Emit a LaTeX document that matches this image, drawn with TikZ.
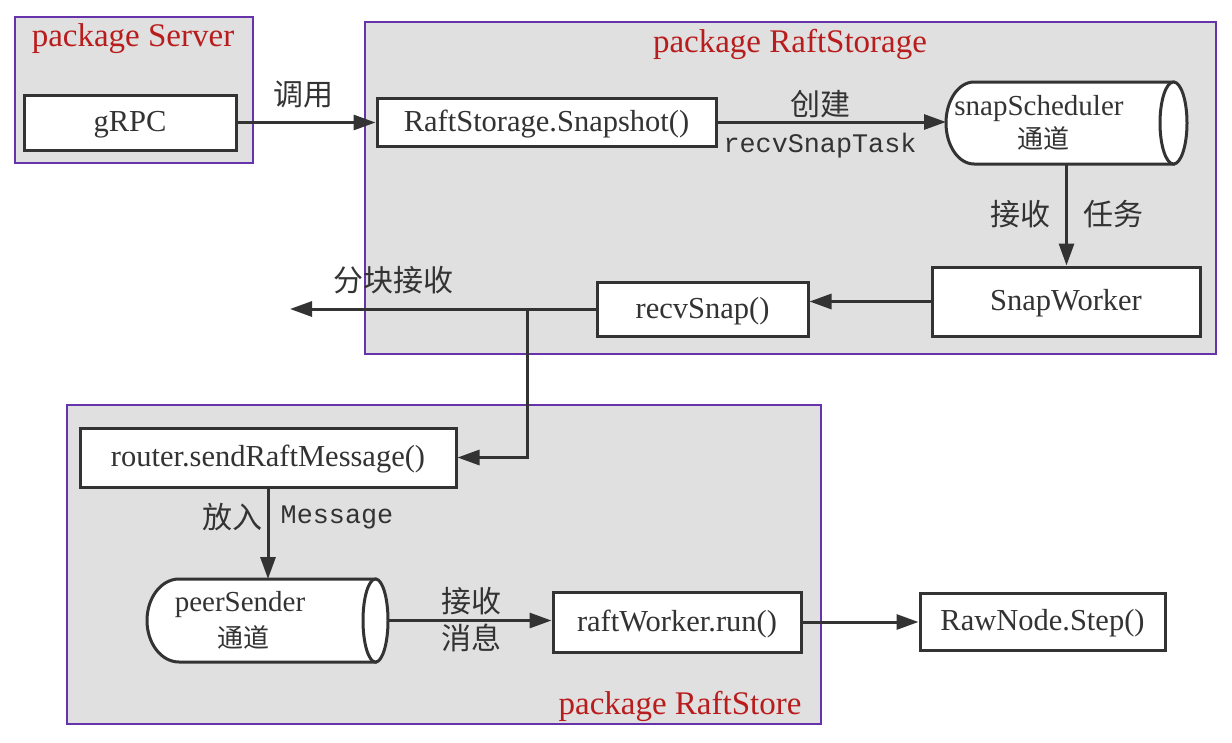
\documentclass[tikz,border=0pt]{standalone}
\usepackage{fontspec}
\setmainfont{Liberation Serif}
\newfontfamily\cjk{Noto Sans CJK SC}
\newfontfamily\monof{Liberation Mono}
\usetikzlibrary{arrows.meta}
\definecolor{pkgfill}{RGB}{224,224,224}
\definecolor{pkgline}{RGB}{102,51,170}
\definecolor{pkgred}{RGB}{185,28,28}
\definecolor{ink}{RGB}{51,51,51}
\begin{document}
\begin{tikzpicture}[x=1pt,y=-1pt,
 pkg/.style={draw=pkgline, fill=pkgfill, line width=1.6pt, inner sep=0pt},
 box/.style={draw=ink, fill=white, line width=3pt, inner sep=0pt, text=ink,
   font=\fontsize{30.5}{34}\selectfont, text height=22pt, text depth=3.4pt},
 ttl/.style={text=pkgred, font=\fontsize{33}{38}\selectfont, inner sep=0pt},
 zh/.style={text=ink, font=\cjk\fontsize{30}{34}\selectfont, inner sep=0pt},
 zhs/.style={text=ink, font=\cjk\fontsize{26}{30}\selectfont, inner sep=0pt},
 serif/.style={text=ink, font=\fontsize{29}{34}\selectfont, inner sep=0pt,
   text height=22pt, text depth=3.4pt},
 mono/.style={text=ink, font=\monof\fontsize{26.8}{30}\selectfont, inner sep=0pt},
 arr/.style={draw=ink, line width=3pt, -{Triangle[length=22pt,width=15pt]}},
 cyl/.style={draw=ink, fill=white, line width=3pt},
 hold/.style={inner sep=0pt, outer sep=0pt}]
\useasboundingbox (0,0) rectangle (1232,742);

% packages
\node[pkg, minimum width=238pt, minimum height=146pt] (pS) at (134,90) {};
\node[pkg, minimum width=851pt, minimum height=332pt] (pRS) at (790.5,188) {};
\node[pkg, minimum width=754pt, minimum height=319pt] (pRT) at (444,564.5) {};
\node[ttl] (tS) at (133,39) {package Server};
\node[ttl] (tRS) at (790,44) {package RaftStorage};
\node[ttl] (tRT) at (680,706) {package RaftStore};

% boxes
\node[box, minimum width=212pt, minimum height=55pt] (grpc) at (130,122.5) {gRPC};
\node[box, minimum width=339pt, minimum height=48pt] (snap) at (546.5,122) {RaftStorage.Snapshot()};
\node[box, minimum width=268pt, minimum height=69pt] (sw) at (1066,301.5) {SnapWorker};
\node[box, minimum width=211pt, minimum height=54pt] (recv) at (702.5,309) {recvSnap()};
\node[box, minimum width=376pt, minimum height=59pt] (router) at (268,457.5) {router.sendRaftMessage()};
\node[box, minimum width=248pt, minimum height=60pt] (rw) at (677,622) {raftWorker.run()};
\node[box, minimum width=245pt, minimum height=57pt] (rn) at (1042.5,621.5) {RawNode.Step()};

% cylinders
\node[hold, minimum width=241pt, minimum height=82pt] (ss) at (1066.5,123) {};
\draw[cyl] ([xshift=-13.5pt]ss.north east) -- ([xshift=28pt]ss.north west)
  arc[start angle=90, end angle=270, x radius=28pt, y radius=41pt]
  -- ([xshift=-13.5pt]ss.south east) -- cycle;
\draw[cyl] ([xshift=-13.5pt]ss.east) ellipse[x radius=13.5pt, y radius=41pt];
\node[serif] (ssa) at (1039,106) {snapScheduler};
\node[zhs] (ssb) at (1043,138) {通道};

\node[hold, minimum width=241pt, minimum height=83pt] (ps) at (267.5,620.5) {};
\draw[cyl] ([xshift=-12.5pt]ps.north east) -- ([xshift=32pt]ps.north west)
  arc[start angle=90, end angle=270, x radius=32pt, y radius=41.5pt]
  -- ([xshift=-12.5pt]ps.south east) -- cycle;
\draw[cyl] ([xshift=-12.5pt]ps.east) ellipse[x radius=12.5pt, y radius=41.5pt];
\node[serif] (psa) at (240,602.5) {peerSender};
\node[zhs] (psb) at (243,637) {通道};

% connectors
\coordinate (out) at (290,309);
\coordinate (split) at (527,309);
\draw[arr] (grpc.east) -- (grpc.east -| snap.west);
\draw[arr] (snap.east) -- (snap.east -| ss.west);
\draw[arr] (ss.south) -- (ss.south |- sw.north);
\draw[arr] (sw.west) -- (sw.west -| recv.east);
\draw[arr] (recv.west) -- (out);
\draw[arr] (split) |- (router.east);
\draw[arr] (router.south) -- (router.south |- ps.north);
\draw[arr] (ps.east) -- (ps.east -| rw.west);
\draw[arr] (rw.east) -- (rw.east -| rn.west);

% labels
\node[zh] (l1) at (303,95) {调用};
\node[zh] (l2) at (820,104) {创建};
\node[mono] (l3) at (820,146) {recvSnapTask};
\node[zh] (l4) at (1020,214) {接收};
\node[zh] (l5) at (1113,214) {任务};
\node[zh] (l6) at (393,280) {分块接收};
\node[zh] (l7) at (232,517) {放入};
\node[mono] (l8) at (337,517) {Message};
\node[zh] (l9) at (471,601) {接收};
\node[zh] (l10) at (471,638) {消息};
\end{tikzpicture}
\end{document}
